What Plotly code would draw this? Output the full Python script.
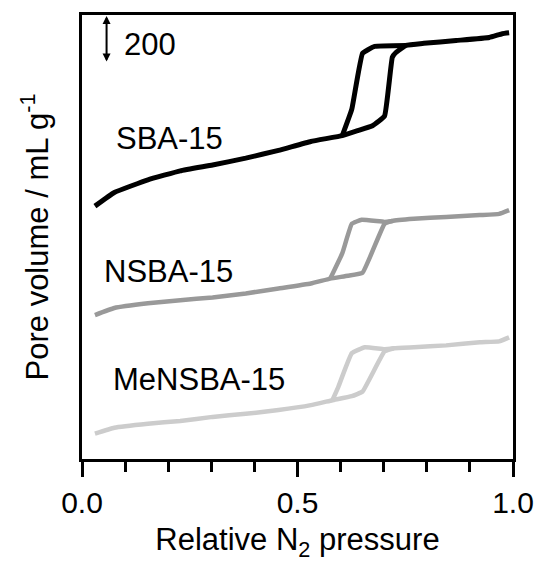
import plotly.graph_objects as go

# Relative N2 pressure (x) and pore volume (y, offset curves, mL/g units)
sba_x = [0.030, 0.075, 0.153, 0.228, 0.303, 0.380, 0.456, 0.531, 0.604, 0.640, 0.674, 0.702,
         0.720, 0.729, 0.752, 0.793, 0.868, 0.945, 0.975, 0.991]
sba_y = [1075, 1133, 1187, 1225, 1250, 1279, 1312, 1350, 1375, 1396, 1417, 1458,
         1708, 1729, 1758, 1767, 1779, 1792, 1808, 1812]
sba_dx = [0.752, 0.679, 0.651, 0.626, 0.604]
sba_dy = [1758, 1754, 1725, 1487, 1375]

nsba_x = [0.030, 0.075, 0.153, 0.228, 0.303, 0.380, 0.456, 0.531, 0.576, 0.617, 0.651, 0.702,
          0.720, 0.770, 0.845, 0.923, 0.968, 0.991]
nsba_y = [612, 642, 662, 675, 687, 704, 725, 746, 767, 779, 792, 1000,
          1012, 1021, 1029, 1037, 1042, 1058]
nsba_dx = [0.720, 0.702, 0.649, 0.626, 0.604, 0.576]
nsba_dy = [1012, 1008, 1017, 1000, 875, 767]

mensba_x = [0.030, 0.075, 0.153, 0.228, 0.303, 0.380, 0.456, 0.531, 0.581, 0.626, 0.651, 0.702,
            0.724, 0.770, 0.845, 0.923, 0.968, 0.991]
mensba_y = [108, 133, 150, 162, 179, 192, 208, 229, 250, 267, 287, 458,
            471, 475, 483, 496, 500, 517]
mensba_dx = [0.724, 0.702, 0.656, 0.626, 0.595, 0.581]
mensba_dy = [471, 467, 475, 450, 308, 250]

series = [
    ("SBA-15", sba_x, sba_y, sba_dx, sba_dy, "#000000", 5, 0.075, 1362),
    ("NSBA-15", nsba_x, nsba_y, nsba_dx, nsba_dy, "#999999", 4.5, 0.046, 796),
    ("MeNSBA-15", mensba_x, mensba_y, mensba_dx, mensba_dy, "#cccccc", 4.5, 0.068, 337),
]

FONT = "Liberation Sans, Arial, sans-serif"
FS = 31
FS_TICK = 30
fig = go.Figure()
annotations = []
for name, ax_, ay_, dx_, dy_, col, lw, lx, ly in series:
    for xs, ys in ((ax_, ay_), (dx_, dy_)):
        fig.add_trace(go.Scatter(x=xs, y=ys, mode="lines",
                                 line=dict(color=col, width=lw, shape="spline", smoothing=0.3),
                                 showlegend=False, hoverinfo="skip"))
    annotations.append(dict(x=lx, y=ly, xref="x", yref="y", text=name, showarrow=False,
                            xanchor="left", yanchor="middle",
                            font=dict(family=FONT, size=FS, color="#000")))

# scale bar (200 mL/g)
scale_x = 0.057
scale_y0, scale_y1 = 1683, 1883
annotations.append(dict(x=scale_x, y=scale_y1, ax=scale_x, ay=scale_y0, xref="x", yref="y",
                        axref="x", ayref="y", text="", showarrow=True, arrowhead=2,
                        arrowside="end+start", arrowsize=0.8, arrowwidth=2, arrowcolor="#000"))
annotations.append(dict(x=0.093, y=1762, xref="x", yref="y", text="200", showarrow=False,
                        xanchor="left", yanchor="middle",
                        font=dict(family=FONT, size=FS, color="#000")))

fig.update_layout(
    width=546, height=564,
    margin=dict(l=82, r=25, t=14, b=97),
    paper_bgcolor="white", plot_bgcolor="white",
    annotations=annotations,
    xaxis=dict(range=[0, 1], tickvals=[0, 0.5, 1.0], ticktext=["0.0", "0.5", "1.0"],
               ticks="outside", ticklen=15, tickwidth=3, tickcolor="#000",
               minor=dict(tickvals=[0.1, 0.2, 0.3, 0.4, 0.6, 0.7, 0.8, 0.9], ticks="outside",
                          ticklen=10, tickwidth=3, tickcolor="#000", showgrid=False),
               showline=True, linewidth=3, linecolor="#000", mirror=True,
               showgrid=False, zeroline=False,
               tickfont=dict(family=FONT, size=FS_TICK, color="#000"),
               title=dict(text="Relative N<sub>2</sub> pressure",
                          font=dict(family=FONT, size=FS, color="#000"), standoff=11)),
    yaxis=dict(range=[0, 1887.5], showticklabels=False, ticks="",
               showline=True, linewidth=3, linecolor="#000", mirror=True,
               showgrid=False, zeroline=False,
               title=dict(text="Pore volume / mL g<sup>-1</sup>",
                          font=dict(family=FONT, size=FS, color="#000"), standoff=22)),
)

fig.write_html("out.html")
